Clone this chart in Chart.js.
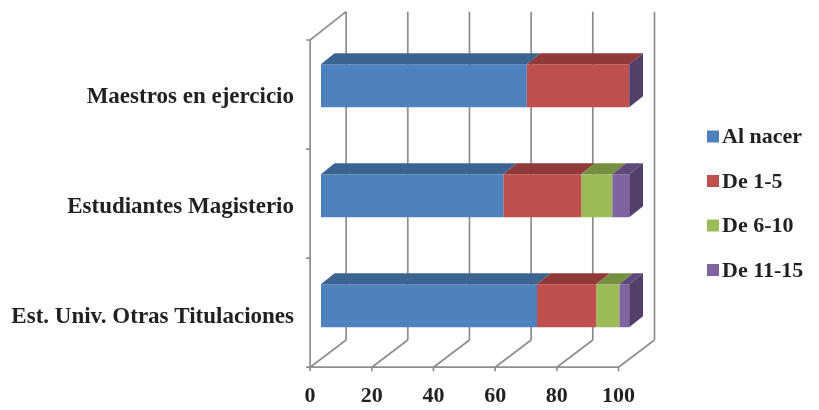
<!DOCTYPE html>
<html>
<head>
<meta charset="utf-8">
<script src="https://cdn.jsdelivr.net/npm/chart.js@4.4.0/dist/chart.umd.min.js"></script>
<style>
  html, body { margin: 0; padding: 0; background: #ffffff; }
  #wrap { width: 819px; height: 410px; position: relative; }
</style>
</head>
<body>
<div id="wrap"><canvas id="chart" width="819" height="410"></canvas></div>
<script>
// Categories (top to bottom) and the share of each age-of-arrival group (%)
const categories = ['Maestros en ejercicio', 'Estudiantes Magisterio', 'Est. Univ. Otras Titulaciones'];
const seriesNames = ['Al nacer', 'De 1-5', 'De 6-10', 'De 11-15'];
const alNacer = [66.8, 59.2, 70.1];
const de1a5   = [33.2, 25.2, 19.2];
const de6a10  = [0, 10.1, 7.5];
const de11a15 = [0, 5.5, 3.2];
const xTicks  = [0, 20, 40, 60, 80, 100];

// Face colours: front, top, side
const palette = [
  { front: '#4f81bd', top: '#3c6491', side: '#3a5f8a' },
  { front: '#c0504d', top: '#8f3a38', side: '#8a3835' },
  { front: '#9bbb59', top: '#758f42', side: '#6f873f' },
  { front: '#8064a2', top: '#5e4a7a', side: '#533f69' }
];

const SERIF = '"Liberation Serif", "Times New Roman", serif';
const GRID = '#8e8e8e';

// Depth geometry of the pseudo-3D box (pixels, relative to the bar plane)
const DEPTH = { frontDx: -10.7, frontTop: 9.3, frontBot: 6.5, backDx: 25.3, backTop: -19, backBot: -20.7, barDx: 13.8, barDy: -11 };

const threeD = {
  id: 'threeD',
  beforeDatasetsDraw(chart) {
    const { ctx, chartArea: a, scales: { x } } = chart;
    const fTop = a.top + DEPTH.frontTop, fBot = a.bottom + DEPTH.frontBot;
    const bTop = a.top + DEPTH.backTop, bBot = a.bottom + DEPTH.backBot;
    const fx = v => x.getPixelForValue(v) + DEPTH.frontDx;
    const bx = v => x.getPixelForValue(v) + DEPTH.backDx;
    const fy = py => fTop + (py - a.top) / a.height * (fBot - fTop);
    ctx.save();
    ctx.strokeStyle = GRID;
    ctx.lineWidth = 1.7;
    ctx.lineCap = 'butt';
    ctx.beginPath();
    // back wall verticals and floor diagonals
    xTicks.forEach(v => {
      ctx.moveTo(bx(v), bTop); ctx.lineTo(bx(v), bBot);
      ctx.moveTo(fx(v), fBot); ctx.lineTo(bx(v), bBot);
      // tick below the front edge
      ctx.moveTo(fx(v), fBot); ctx.lineTo(fx(v), fBot + 4);
    });
    // front floor edge
    ctx.moveTo(fx(0), fBot); ctx.lineTo(fx(xTicks[xTicks.length - 1]), fBot);
    // left wall: front edge and top diagonal
    ctx.moveTo(fx(0), fTop); ctx.lineTo(fx(0), fBot);
    ctx.moveTo(fx(0), fTop); ctx.lineTo(bx(0), bTop);
    // category boundary ticks on the left axis
    const n = categories.length;
    for (let i = 0; i <= n; i++) {
      const py = fy(a.top + i * a.height / n);
      ctx.moveTo(fx(0) - 4, py); ctx.lineTo(fx(0), py);
    }
    ctx.stroke();
    ctx.restore();
  },
  afterDatasetsDraw(chart) {
    const { ctx, chartArea: a, scales: { x, y } } = chart;
    const fBot = a.bottom + DEPTH.frontBot;
    const dx = DEPTH.barDx, dy = DEPTH.barDy;
    ctx.save();
    const nSets = chart.data.datasets.length;
    for (let d = 0; d < nSets; d++) {
      const meta = chart.getDatasetMeta(d);
      meta.data.forEach(bar => {
        const left = Math.min(bar.x, bar.base), right = Math.max(bar.x, bar.base);
        const top = bar.y - bar.height / 2;
        if (right - left > 0.01) {
          ctx.fillStyle = palette[d].top;
          ctx.beginPath();
          ctx.moveTo(left, top);
          ctx.lineTo(left + dx, top + dy);
          ctx.lineTo(right + dx, top + dy);
          ctx.lineTo(right, top);
          ctx.closePath();
          ctx.fill();
        }
        if (d === nSets - 1) {
          const bottom = bar.y + bar.height / 2;
          ctx.fillStyle = palette[d].side;
          ctx.beginPath();
          ctx.moveTo(right, top);
          ctx.lineTo(right + dx, top + dy);
          ctx.lineTo(right + dx, bottom + dy);
          ctx.lineTo(right, bottom);
          ctx.closePath();
          ctx.fill();
        }
      });
    }
    // category labels
    ctx.fillStyle = '#231f20';
    ctx.font = 'bold 23px ' + SERIF;
    ctx.textAlign = 'right';
    ctx.textBaseline = 'middle';
    categories.forEach((c, i) => {
      ctx.fillText(c, 294, y.getPixelForValue(i) + 11);
    });
    // value axis labels
    ctx.font = 'bold 22px ' + SERIF;
    ctx.textAlign = 'center';
    xTicks.forEach(v => {
      ctx.fillText(String(v), x.getPixelForValue(v) + DEPTH.frontDx, fBot + 29);
    });
    // legend
    ctx.font = 'bold 22px ' + SERIF;
    ctx.textAlign = 'left';
    const rowY = [136.5, 181, 225.5, 270];
    chart.data.datasets.forEach((ds, i) => {
      ctx.fillStyle = ds.backgroundColor;
      ctx.fillRect(707, rowY[i] - 6, 12, 12);
      ctx.fillStyle = '#231f20';
      ctx.fillText(ds.label, 722, rowY[i] + 1);
    });
    ctx.restore();
  }
};

const seriesValues = [alNacer, de1a5, de6a10, de11a15];
new Chart(document.getElementById('chart'), {
  type: 'bar',
  data: {
    labels: categories,
    datasets: seriesNames.map((name, i) => ({
      label: name,
      data: seriesValues[i],
      backgroundColor: palette[i].front,
      borderWidth: 0,
      categoryPercentage: 1,
      barPercentage: 0.39
    }))
  },
  options: {
    indexAxis: 'y',
    responsive: false,
    animation: false,
    layout: { padding: { left: 320.8, right: 189.8, top: 30.7, bottom: 49.3 } },
    scales: {
      x: { stacked: true, min: 0, max: 100, display: false },
      y: { stacked: true, display: false }
    },
    plugins: { legend: { display: false }, tooltip: { enabled: false } }
  },
  plugins: [threeD]
});
</script>
</body>
</html>
